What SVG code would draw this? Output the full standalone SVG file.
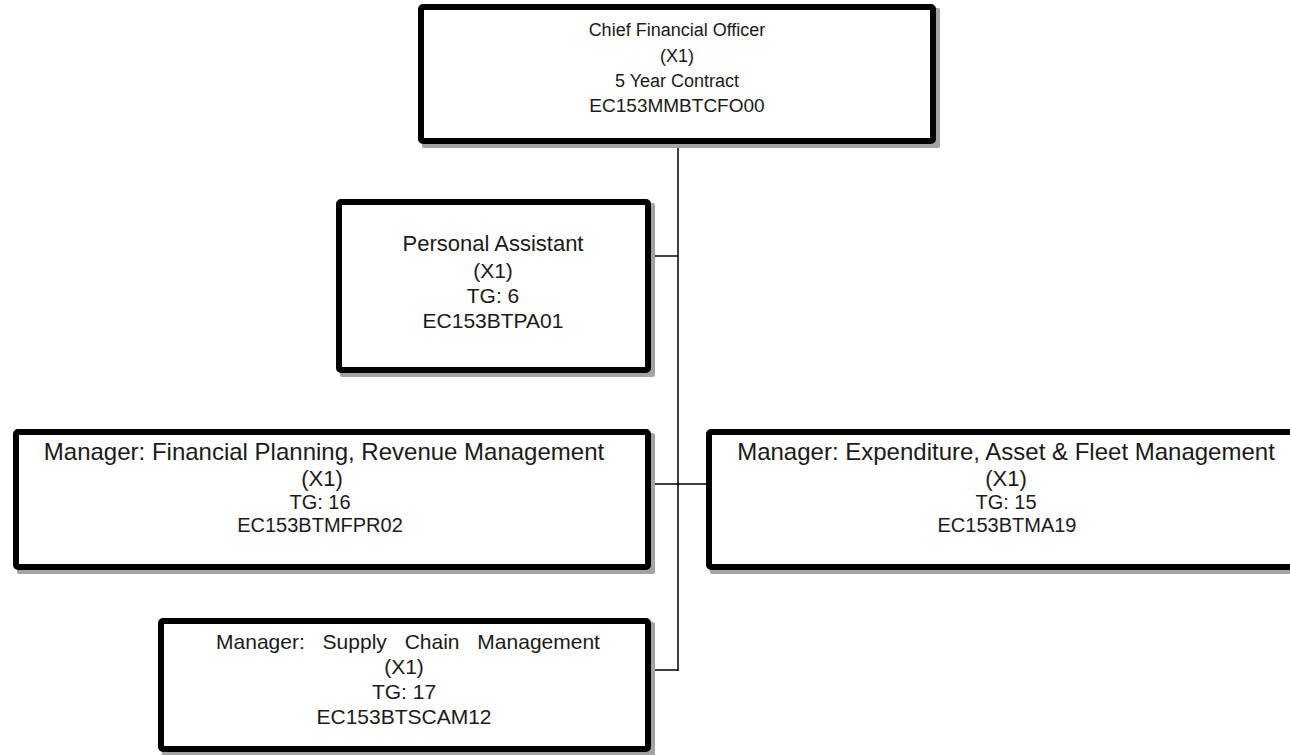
<svg xmlns="http://www.w3.org/2000/svg" width="1290" height="755" viewBox="0 0 1290 755">
<style>
.shadow{fill:#a3a3a3;}
.box{fill:#fff;stroke:#000;stroke-width:6;}
.conn{stroke:#000;stroke-width:1.5;fill:none;}
text{font-family:"Liberation Sans",Arial,sans-serif;fill:#1a1a1a;text-anchor:middle;}
.t18{font-size:18px;}
.t19{font-size:19px;}
.t20{font-size:20px;}
.t21{font-size:21px;}
.t22{font-size:22px;}
.t24{font-size:24px;}
</style>
<rect width="1290" height="755" fill="#fff"/>
<g id="connectors">
<line class="conn" x1="678" y1="144" x2="678" y2="671"/>
<line class="conn" x1="651" y1="256" x2="678" y2="256"/>
<line class="conn" x1="651" y1="484" x2="706" y2="484"/>
<line class="conn" x1="651" y1="670" x2="678" y2="670"/>
</g>
<g id="cfo">
<rect class="shadow" x="422" y="8" width="518" height="140" rx="2"/>
<rect class="box" x="421" y="7" width="512" height="134" rx="2"/>
<text class="t18" x="677" y="36">Chief Financial Officer</text>
<text class="t18" x="677" y="62">(X1)</text>
<text class="t18" x="677" y="87">5 Year Contract</text>
<text class="t19" x="677" y="112">EC153MMBTCFO00</text>
</g>
<g id="pa">
<rect class="shadow" x="340" y="203" width="315" height="174" rx="2"/>
<rect class="box" x="339" y="202" width="309" height="168" rx="2"/>
<text class="t22" x="493" y="251">Personal Assistant</text>
<text class="t21" x="493" y="278">(X1)</text>
<text class="t21" x="493" y="303">TG: 6</text>
<text class="t21" x="493" y="328">EC153BTPA01</text>
</g>
<g id="fp">
<rect class="shadow" x="17" y="433" width="638" height="141" rx="2"/>
<rect class="box" x="16" y="432" width="632" height="135" rx="2"/>
<text class="t24" x="324" y="460">Manager: Financial Planning, Revenue Management</text>
<text class="t22" x="322" y="486">(X1)</text>
<text class="t20" x="320" y="509">TG: 16</text>
<text class="t20" x="320" y="532">EC153BTMFPR02</text>
</g>
<g id="exp">
<rect class="shadow" x="710" y="433" width="606" height="141" rx="2"/>
<rect class="box" x="709" y="432" width="600" height="135" rx="2"/>
<text class="t24" x="1006" y="460">Manager: Expenditure, Asset &amp; Fleet Management</text>
<text class="t22" x="1006" y="486">(X1)</text>
<text class="t20" x="1006" y="509">TG: 15</text>
<text class="t20" x="1007" y="532">EC153BTMA19</text>
</g>
<g id="scm">
<rect class="shadow" x="162" y="622" width="493" height="138" rx="2"/>
<rect class="box" x="161" y="621" width="487" height="128" rx="2"/>
<text class="t21" x="408" y="649" word-spacing="12">Manager: Supply Chain Management</text>
<text class="t21" x="404" y="674">(X1)</text>
<text class="t21" x="404" y="699">TG: 17</text>
<text class="t21" x="404" y="724">EC153BTSCAM12</text>
</g>
</svg>
